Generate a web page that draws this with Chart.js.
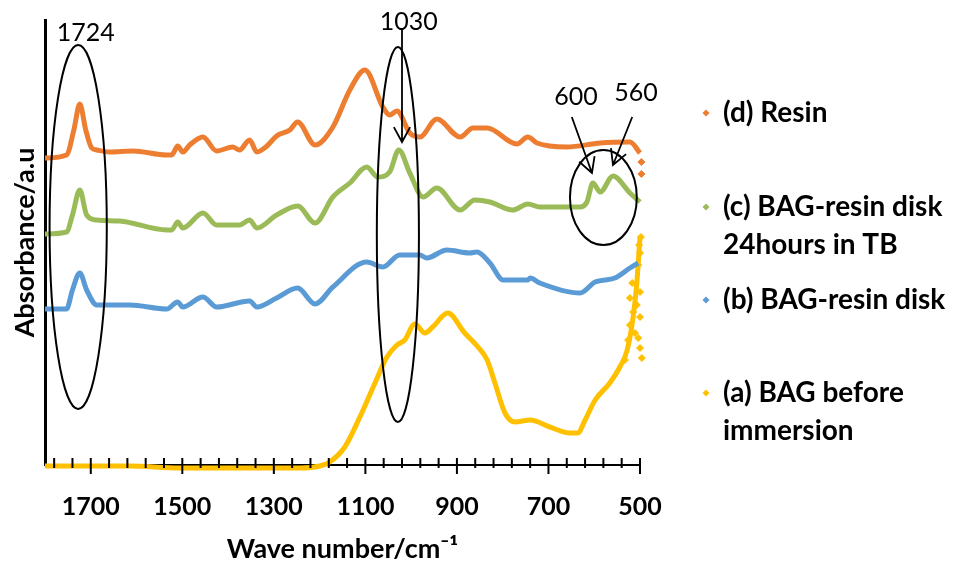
<!DOCTYPE html>
<html lang="en">
<head>
  <meta charset="UTF-8">
  <title>FTIR spectra</title>
  <style>
    body {
      margin: 0;
      background: #fff;
    }

    #chart-container {
      width: 964px;
      height: 567px;
    }
  </style>
</head>
<body>
  <div id="chart-container">
    <canvas id="ftirChart"></canvas>
  </div>

  <script src="https://cdn.jsdelivr.net/npm/chart.js"></script>
  <script>
    // wave numbers (cm-1) and absorbance (arbitrary units, offset per trace)
    const resinWave = [1800, 1753, 1737, 1724, 1711, 1698, 1687, 1659, 1608, 1534, 1523, 1510, 1499, 1484, 1455, 1425, 1390, 1375, 1353, 1337, 1315, 1294, 1265, 1248, 1210, 1171, 1134, 1101, 1062, 1047, 1031, 1003, 981, 944, 893, 865, 834, 769, 745, 725, 660, 587, 522, 500];
    const resinAbs = [307, 310, 335, 361, 335, 317, 315, 313, 314, 310, 310, 319, 313, 320, 328, 314, 318, 315, 325, 313, 319, 329, 335, 343, 320, 338, 375, 395, 358, 350, 354, 332, 328, 346, 328, 337, 337, 321, 328, 322, 318, 322, 323, 312];

    const diskTbWave = [1800, 1753, 1740, 1724, 1709, 1687, 1637, 1534, 1523, 1510, 1499, 1455, 1425, 1375, 1353, 1337, 1294, 1248, 1210, 1171, 1134, 1097, 1073, 1047, 1027, 1003, 974, 944, 893, 861, 828, 778, 745, 719, 631, 616, 603, 587, 559, 522, 500];
    const diskTbAbs = [231, 233, 250, 275, 250, 245, 244, 235, 235, 243, 237, 252, 240, 240, 245, 237, 250, 259, 242, 268, 282, 298, 288, 293, 315, 292, 268, 277, 255, 265, 263, 255, 261, 258, 258, 263, 282, 273, 289, 272, 263];

    const diskWave = [1800, 1753, 1740, 1724, 1709, 1687, 1615, 1534, 1510, 1499, 1455, 1425, 1353, 1337, 1294, 1248, 1210, 1171, 1097, 1062, 1025, 981, 966, 922, 872, 856, 828, 799, 745, 740, 719, 631, 598, 555, 522, 504];
    const diskAbs = [156, 156, 175, 192, 175, 160, 160, 156, 163, 158, 168, 158, 164, 158, 167, 177, 161, 178, 203, 198, 210, 210, 207, 215, 212, 213, 202, 185, 185, 187, 182, 172, 183, 187, 197, 202];

    const bagWave = [1800, 1615, 1506, 1353, 1243, 1200, 1178, 1145, 1112, 1079, 1053, 1031, 1014, 992, 970, 953, 920, 883, 854, 834, 817, 795, 773, 740, 697, 653, 636, 620, 598, 566, 544, 528, 515, 507, 500];
    const bagAbs = [-1, -1, -3, -3, -3, -1, 3, 18, 48, 82, 108, 120, 125, 141, 132, 138, 152, 132, 118, 105, 82, 52, 43, 45, 38, 32, 32, 45, 65, 82, 98, 115, 148, 182, 228];

    // loose markers at the low wave number end
    const bagNoiseWave = [500, 504, 517, 500, 522, 507, 515, 500, 522, 511, 504, 526, 500, 496, 533, 498, 502];
    const bagNoiseAbs = [212, 200, 182, 173, 167, 160, 153, 148, 140, 132, 127, 125, 117, 107, 105, 228, 220];
    const resinNoiseWave = [497, 497];
    const resinNoiseAbs = [303, 291];

    const xTicks = [500, 700, 900, 1100, 1300, 1500, 1700];
    const seriesNames = [['(d) Resin'], ['(c) BAG-resin disk', '24hours in TB'], ['(b) BAG-resin disk'], ['(a) BAG before', 'immersion']];
    const seriesColors = ['#ED7D31', '#9BBB59', '#5B9BD5', '#FFC000'];

    const peakLabels = [
      { text: '1724', wn: 1711, abs: 432 },
      { text: '1030', wn: 1005, abs: 443 },
      { text: '600', wn: 640, abs: 368 },
      { text: '560', wn: 509, abs: 372 }
    ];
    const peakEllipses = [
      { wn: [1790, 1665], abs: [420, 56] },
      { wn: [1075, 983], abs: [418, 43] },
      { wn: [653, 507], abs: [315, 220] }
    ];
    const peakArrows = [
      { from: [1020, 435], to: [1020, 323] },
      { from: [649, 348], to: [605, 292] },
      { from: [517, 348], to: [559, 300] }
    ];

    const FONT = 'Lato, "Noto Sans", sans-serif';

    function toPoints(xs, ys) {
      return xs.map((v, i) => ({ x: v, y: ys[i] }));
    }

    function traceDataset(xs, ys, color) {
      return {
        data: toPoints(xs, ys),
        showLine: true,
        borderColor: color,
        backgroundColor: color,
        borderWidth: 5,
        pointRadius: 0,
        cubicInterpolationMode: 'monotone',
        clip: false
      };
    }

    function markerDataset(xs, ys, color) {
      return {
        data: toPoints(xs, ys),
        showLine: false,
        backgroundColor: color,
        borderColor: color,
        pointStyle: 'rectRot',
        pointRadius: 3.5,
        clip: false
      };
    }

    function drawArrow(ctx, x1, y1, x2, y2) {
      const ang = Math.atan2(y2 - y1, x2 - x1);
      const len = 17;
      ctx.beginPath();
      ctx.moveTo(x1, y1);
      ctx.lineTo(x2, y2);
      ctx.moveTo(x2 - len * Math.cos(ang - 0.5), y2 - len * Math.sin(ang - 0.5));
      ctx.lineTo(x2, y2);
      ctx.lineTo(x2 - len * Math.cos(ang + 0.5), y2 - len * Math.sin(ang + 0.5));
      ctx.stroke();
    }

    const annotations = {
      id: 'annotations',
      afterDatasetsDraw(chart) {
        const { ctx, scales: { x, y } } = chart;
        ctx.save();
        ctx.strokeStyle = '#000';
        ctx.fillStyle = '#000';

        // minor / major tick marks crossing the axis
        ctx.lineWidth = 2;
        for (let v = 500; v < 1800; v += 40) {
          const px = x.getPixelForValue(v);
          const major = (v - 500) % 200 === 0;
          ctx.beginPath();
          ctx.moveTo(px, y.bottom - 7);
          ctx.lineTo(px, y.bottom + (major ? 9 : 3));
          ctx.stroke();
        }

        ctx.lineWidth = 2;
        peakEllipses.forEach(e => {
          const x1 = x.getPixelForValue(e.wn[0]), x2 = x.getPixelForValue(e.wn[1]);
          const y1 = y.getPixelForValue(e.abs[0]), y2 = y.getPixelForValue(e.abs[1]);
          ctx.beginPath();
          ctx.ellipse((x1 + x2) / 2, (y1 + y2) / 2, Math.abs(x2 - x1) / 2, Math.abs(y2 - y1) / 2, 0, 0, Math.PI * 2);
          ctx.stroke();
        });

        ctx.lineWidth = 1.8;
        peakArrows.forEach(a => {
          drawArrow(ctx, x.getPixelForValue(a.from[0]), y.getPixelForValue(a.from[1]),
            x.getPixelForValue(a.to[0]), y.getPixelForValue(a.to[1]));
        });

        ctx.font = '25px ' + FONT;
        ctx.textAlign = 'center';
        ctx.textBaseline = 'middle';
        peakLabels.forEach(l => {
          ctx.fillText(l.text, x.getPixelForValue(l.wn), y.getPixelForValue(l.abs));
        });
        ctx.restore();
      },
      afterDraw(chart) {
        // legend at the right, drawn by hand for the two-line entries
        const ctx = chart.ctx;
        const rows = [113, 207, 300, 393];
        ctx.save();
        ctx.font = 'bold 28px ' + FONT;
        ctx.textAlign = 'left';
        ctx.textBaseline = 'middle';
        seriesNames.forEach((lines, i) => {
          const cy = rows[i];
          ctx.fillStyle = seriesColors[i];
          ctx.beginPath();
          ctx.moveTo(706, cy - 3.5);
          ctx.lineTo(709.5, cy);
          ctx.lineTo(706, cy + 3.5);
          ctx.lineTo(702.5, cy);
          ctx.closePath();
          ctx.fill();
          ctx.fillStyle = '#000';
          lines.forEach((t, j) => ctx.fillText(t, 723, cy + j * 38));
        });
        ctx.restore();
      }
    };

    new Chart(document.getElementById('ftirChart'), {
      type: 'scatter',
      data: {
        datasets: [
          traceDataset(resinWave, resinAbs, seriesColors[0]),
          traceDataset(diskTbWave, diskTbAbs, seriesColors[1]),
          traceDataset(diskWave, diskAbs, seriesColors[2]),
          traceDataset(bagWave, bagAbs, seriesColors[3]),
          markerDataset(bagNoiseWave, bagNoiseAbs, seriesColors[3]),
          markerDataset(resinNoiseWave, resinNoiseAbs, seriesColors[0])
        ]
      },
      options: {
        responsive: true,
        maintainAspectRatio: false,
        animation: false,
        layout: {
          padding: { top: 20, right: 324, bottom: 0, left: 0 }
        },
        plugins: {
          legend: { display: false },
          tooltip: { enabled: false }
        },
        scales: {
          x: {
            type: 'linear',
            reverse: true,
            min: 500,
            max: 1800,
            afterBuildTicks: axis => {
              axis.ticks = xTicks.map(v => ({ value: v }));
            },
            afterFit: axis => {
              axis.height = 102;
            },
            grid: { display: false, drawTicks: false },
            border: { display: true, color: '#000', width: 2 },
            ticks: {
              color: '#000',
              padding: 27,
              maxRotation: 0,
              callback: v => String(v),
              font: { family: FONT, size: 25, weight: 'bold' }
            },
            title: {
              display: true,
              text: 'Wave number/cm\u207B\u00B9',
              color: '#000',
              padding: { top: 0, bottom: 2 },
              font: { family: FONT, size: 27, weight: 'bold' }
            }
          },
          y: {
            min: 0,
            max: 445,
            afterFit: axis => {
              axis.width = 45;
            },
            grid: { display: false, drawTicks: false },
            border: { display: true, color: '#000', width: 3 },
            ticks: { display: false },
            title: {
              display: true,
              text: 'Absorbance/a.u',
              color: '#000',
              padding: { top: 9, bottom: 0 },
              font: { family: FONT, size: 27, weight: 'bold' }
            }
          }
        }
      },
      plugins: [annotations]
    });
  </script>
</body>
</html>
